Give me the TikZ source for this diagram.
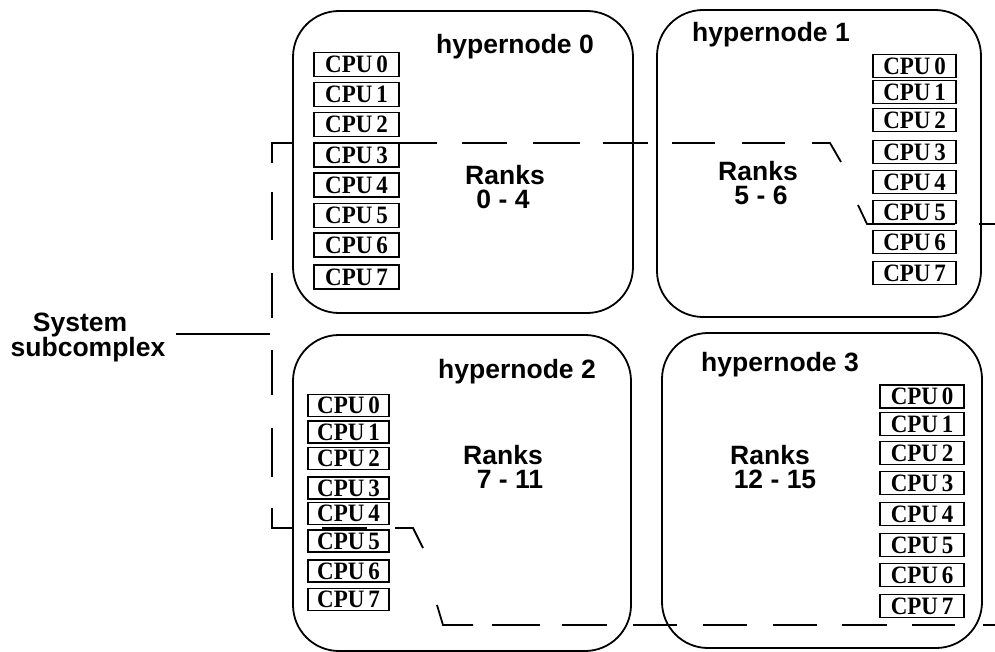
\documentclass[tikz,border=0pt]{standalone}
\usepackage{fontspec}
\setmainfont{Liberation Serif}
\newfontfamily\hsans{Liberation Sans}
\newfontfamily\cpufont[FakeStretch=0.92]{Liberation Serif}
\begin{document}
\begin{tikzpicture}[x=1pt,y=-1pt,
  hyper/.style={draw,line width=1.8pt,rounded corners=46pt,inner sep=0pt},
  cpubox/.style={draw,line width=1.6pt,inner sep=0pt,font=\cpufont\fontsize{25}{25}\selectfont\bfseries},
  lab/.style={font=\hsans\fontsize{26.5}{26.5}\selectfont\bfseries,inner sep=0pt,anchor=base},
  bound/.style={line width=1.8pt}]
\useasboundingbox (0,0) rectangle (995,652);
% hypernode boxes
\node[hyper,minimum width=340pt,minimum height=302pt] (hn0) at (463,162) {};
\node[hyper,minimum width=324pt,minimum height=307pt] (hn1) at (819,163.5) {};
\node[hyper,minimum width=338pt,minimum height=316pt] (hn2) at (462,493) {};
\node[hyper,minimum width=320pt,minimum height=315pt] (hn3) at (822,490.5) {};
% titles
\node[lab] (t0) at (515,54) {hypernode 0};
\node[lab] (t1) at (771,42) {hypernode 1};
\node[lab] (t2) at (517,378) {hypernode 2};
\node[lab] (t3) at (780,371) {hypernode 3};
% ranks
\node[lab] (r0a) at (505,185) {Ranks};
\node[lab] (r0b) at (503,209) {0 - 4};
\node[lab] (r1a) at (758,181) {Ranks};
\node[lab] (r1b) at (761,205) {5 - 6};
\node[lab] (r2a) at (503,464) {Ranks};
\node[lab] (r2b) at (510,488) {7 - 11};
\node[lab] (r3a) at (770,464) {Ranks};
\node[lab] (r3b) at (775,488) {12 - 15};
% CPUs
\foreach \y [count=\i from 0] in {64.5,94.5,124.5,155,185,215.5,245,277}
  \node[cpubox,minimum width=85pt,minimum height=24pt] (a\i) at (356.5,\y) {CPU\hspace{0.15em}\i};
\foreach \y [count=\i from 0] in {66,92,120,152,182,212,242,273}
  \node[cpubox,minimum width=83pt,minimum height=23pt] (b\i) at (914.5,\y) {CPU\hspace{0.15em}\i};
\foreach \y [count=\i from 0] in {405.5,432,458.5,488,513.5,541,571,599.5}
  \node[cpubox,minimum width=81pt,minimum height=22pt] (c\i) at (348.5,\y) {CPU\hspace{0.15em}\i};
\foreach \y [count=\i from 0] in {396.5,424,453,483,514,545,575,606}
  \node[cpubox,minimum width=84pt,minimum height=23pt] (d\i) at (922,\y) {CPU\hspace{0.15em}\i};
% system subcomplex label
\node[lab] (s1) at (80,331) {System};
\node[lab] (s2) at (88,356) {subcomplex};
\coordinate (sa) at (176,334);
\coordinate (sb) at (270,334);
\draw[bound] (sa) -- (sb);
% subcomplex boundary (dashed by hand)
\draw[bound] (272,163) -- (272,143) -- (292,143);
\draw[bound] (399,143) -- (437,143);
\draw[bound] (462,143) -- (507,143);
\draw[bound] (533,143) -- (580,143);
\draw[bound] (603,143) -- (648,143);
\draw[bound] (672,143) -- (715,143);
\draw[bound] (742,143) -- (785,143);
\draw[bound] (812,143) -- (830,143) -- (841,162);
\draw[bound] (858,205) -- (867,224) -- (955,224);
\draw[bound] (979,224) -- (995,224);
\draw[bound] (272,192) -- (272,240);
\draw[bound] (272,273) -- (272,318);
\draw[bound] (272,350) -- (272,395);
\draw[bound] (272,428) -- (272,477);
\draw[bound] (272,508) -- (272,528) -- (293,528);
\draw[bound] (322,528) -- (367,528);
\draw[bound] (395,528) -- (413,528) -- (423,548);
\draw[bound] (437,605) -- (443,625) -- (473,625);
\draw[bound] (492,625) -- (540,625);
\draw[bound] (562,625) -- (607,625);
\draw[bound] (633,625) -- (677,625);
\draw[bound] (703,625) -- (747,625);
\draw[bound] (773,625) -- (817,625);
\draw[bound] (842,625) -- (887,625);
\draw[bound] (912,625) -- (955,625);
\draw[bound] (983,625) -- (995,625);
\end{tikzpicture}
\end{document}
